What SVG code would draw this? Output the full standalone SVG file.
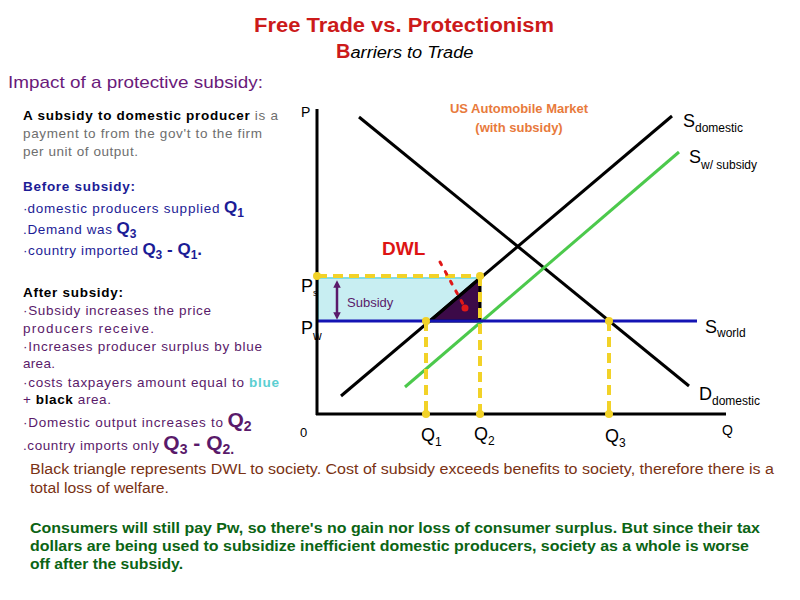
<svg xmlns="http://www.w3.org/2000/svg" width="800" height="600" viewBox="0 0 800 600">
<style>
text{font-family:"Liberation Sans",Arial,sans-serif;}
.t13{font-size:13.5px;}
.gray{fill:#6e6e6e;}
.navy{fill:#1c1c96;}
.purp{fill:#5a1a6a;}
.ax{stroke:#000;stroke-width:3;fill:none;}
.blk{stroke:#000;stroke-width:3;fill:none;}
.yd{stroke:#f2d228;stroke-width:4;stroke-dasharray:10 6;fill:none;}
.dot{fill:#f2d228;}
.lbl{font-size:18px;fill:#000;}
.sub{font-size:12px;fill:#000;}
</style>
<defs>
<marker id="ah" viewBox="0 0 10 10" refX="5" refY="5" markerWidth="3" markerHeight="3" orient="auto-start-reverse"><path d="M0,0 L10,5 L0,10 z" fill="#5a1a6a"/></marker>
</defs>
<rect width="800" height="600" fill="#fff"/>

<g id="title">
<text x="404" y="32" text-anchor="middle" font-size="20" font-weight="bold" fill="#cc1a1a" textLength="300" lengthAdjust="spacingAndGlyphs">Free Trade vs. Protectionism</text>
<text x="336" y="58"><tspan font-size="20" font-weight="bold" fill="#cc1a1a">B</tspan><tspan font-size="16" font-style="italic" fill="#000" textLength="123" lengthAdjust="spacingAndGlyphs">arriers to Trade</tspan></text>
<text x="8" y="88" font-size="17" fill="#6a1a7a" textLength="255" lengthAdjust="spacingAndGlyphs">Impact of a protective subsidy:</text>
</g>

<g id="intro">
<text x="23" y="120" class="t13" textLength="255"><tspan font-weight="bold" fill="#000">A subsidy to domestic producer</tspan><tspan class="gray"> is a</tspan></text>
<text x="23" y="138" class="t13 gray" textLength="239">payment to from the gov't to the firm</text>
<text x="23" y="156" class="t13 gray" textLength="115">per unit of output.</text>
</g>

<g id="before">
<text x="23" y="191" class="t13 navy" font-weight="bold" textLength="112">Before subsidy:</text>
<text x="23" y="213" class="t13 navy">·<tspan textLength="192">domestic producers supplied</tspan> <tspan font-size="17" font-weight="bold">Q</tspan><tspan font-size="12" font-weight="bold" dy="4">1</tspan></text>
<text x="23" y="234" class="t13 navy"><tspan textLength="89">.Demand was</tspan> <tspan font-size="17" font-weight="bold">Q</tspan><tspan font-size="12" font-weight="bold" dy="4">3</tspan></text>
<text x="23" y="255" class="t13 navy"><tspan textLength="115">·country imported</tspan> <tspan font-size="17" font-weight="bold">Q</tspan><tspan font-size="12" font-weight="bold" dy="4">3</tspan><tspan font-size="17" font-weight="bold" dy="-4"> - Q</tspan><tspan font-size="12" font-weight="bold" dy="4">1</tspan><tspan font-size="17" font-weight="bold" dy="-4">.</tspan></text>
</g>

<g id="after">
<text x="23" y="297" class="t13" font-weight="bold" fill="#000" textLength="100">After subsidy:</text>
<text x="23" y="315" class="t13 purp" textLength="188">·Subsidy increases the price</text>
<text x="23" y="333" class="t13 purp" textLength="131">producers receive.</text>
<text x="23" y="351" class="t13 purp" textLength="239">·Increases producer surplus by blue</text>
<text x="23" y="368" class="t13 purp" textLength="32">area.</text>
<text x="23" y="387" class="t13 purp" textLength="256">·costs taxpayers amount equal to <tspan font-weight="bold" fill="#5ccfd2">blue</tspan></text>
<text x="23" y="404" class="t13 purp" textLength="88">+ <tspan font-weight="bold" fill="#000">black</tspan> area.</text>
<text x="23" y="427" class="t13 purp"><tspan textLength="200">·Domestic output increases to</tspan> <tspan font-size="21" font-weight="bold">Q</tspan><tspan font-size="14" font-weight="bold" dy="4">2</tspan></text>
<text x="23" y="450" class="t13 purp"><tspan textLength="136">.country imports only</tspan> <tspan font-size="21" font-weight="bold">Q</tspan><tspan font-size="14" font-weight="bold" dy="4">3</tspan><tspan font-size="21" font-weight="bold" dy="-4"> - Q</tspan><tspan font-size="14" font-weight="bold" dy="4">2.</tspan></text>
</g>

<g id="chart-areas">
<rect x="318" y="278" width="162" height="43" fill="#c8eef2" stroke="#7fdde6" stroke-width="2"/>
<polygon points="430,321 480,321 480,278" fill="#3c0a48" stroke="#000" stroke-width="3" stroke-linejoin="round"/>
<circle cx="465" cy="308" r="3.5" fill="#e01818"/>
</g>

<g id="connectors">
<line x1="359" y1="117" x2="689" y2="386" class="blk"/>
<line x1="341" y1="396" x2="672" y2="116" class="blk"/>
<line x1="405" y1="387" x2="679" y2="152" stroke="#4cc94c" stroke-width="3"/>
<line x1="317" y1="321" x2="697" y2="321" stroke="#1414b4" stroke-width="3"/>
<line x1="317" y1="276" x2="480" y2="276" class="yd"/>
<line x1="480" y1="276" x2="480" y2="414" class="yd"/>
<line x1="426" y1="321" x2="426" y2="414" class="yd"/>
<line x1="609" y1="321" x2="609" y2="414" class="yd"/>
<line x1="317" y1="109" x2="317" y2="415" class="ax"/>
<line x1="316" y1="414" x2="726" y2="414" class="ax"/>
<line x1="440" y1="262" x2="463" y2="304" stroke="#e01818" stroke-width="3" stroke-dasharray="3 8" stroke-linecap="round"/>
<line x1="337" y1="284" x2="337" y2="316" stroke="#5a1a6a" stroke-width="2.5" marker-start="url(#ah)" marker-end="url(#ah)"/>
<circle cx="317" cy="276" r="4" class="dot"/>
<circle cx="480" cy="276" r="4" class="dot"/>
<circle cx="426" cy="321" r="4" class="dot"/>
<circle cx="609" cy="321" r="4" class="dot"/>
<circle cx="426" cy="414" r="4" class="dot"/>
<circle cx="480" cy="414" r="4" class="dot"/>
<circle cx="609" cy="414" r="4" class="dot"/>
</g>

<g id="chart-labels">
<text x="301" y="117" font-size="14" fill="#000">P</text>
<text x="519" y="113" text-anchor="middle" font-size="13" font-weight="bold" fill="#e87a3c">US Automobile Market</text>
<text x="519" y="132" text-anchor="middle" font-size="13" font-weight="bold" fill="#e87a3c">(with subsidy)</text>
<text x="683" y="127" class="lbl">S<tspan class="sub" dy="5">domestic</tspan></text>
<text x="689" y="163" class="lbl">S<tspan class="sub" dy="6">w/ subsidy</tspan></text>
<text x="382" y="255" font-size="19" font-weight="bold" fill="#dd1414">DWL</text>
<text x="301" y="292" class="lbl">P<tspan font-size="9" dy="4">s</tspan></text>
<text x="301" y="334" class="lbl">P<tspan class="sub" dy="6">w</tspan></text>
<text x="347" y="307" font-size="13" fill="#5a1a6a">Subsidy</text>
<text x="705" y="333" class="lbl">S<tspan class="sub" dy="4">world</tspan></text>
<text x="699" y="400" class="lbl">D<tspan class="sub" dy="5">domestic</tspan></text>
<text x="722" y="435" font-size="14" fill="#000">Q</text>
<text x="300" y="437" font-size="13" fill="#000">0</text>
<text x="421" y="441" class="lbl">Q<tspan class="sub" dy="5">1</tspan></text>
<text x="474" y="440" class="lbl">Q<tspan class="sub" dy="5">2</tspan></text>
<text x="605" y="442" class="lbl">Q<tspan class="sub" dy="5">3</tspan></text>
</g>

<g id="notes">
<text x="30" y="474" font-size="14" fill="#7a3214" textLength="744" lengthAdjust="spacingAndGlyphs">Black triangle represents DWL to society. Cost of subsidy exceeds benefits to society, therefore there is a</text>
<text x="30" y="493" font-size="14" fill="#7a3214" textLength="139" lengthAdjust="spacingAndGlyphs">total loss of welfare.</text>
<text x="30" y="533" font-size="15" font-weight="bold" fill="#0b6414" textLength="730" lengthAdjust="spacingAndGlyphs">Consumers will still pay Pw, so there's no gain nor loss of consumer surplus. But since their tax</text>
<text x="30" y="551" font-size="15" font-weight="bold" fill="#0b6414" textLength="719" lengthAdjust="spacingAndGlyphs">dollars are being used to subsidize inefficient domestic producers, society as a whole is worse</text>
<text x="30" y="569" font-size="15" font-weight="bold" fill="#0b6414" textLength="153" lengthAdjust="spacingAndGlyphs">off after the subsidy.</text>
</g>
</svg>
